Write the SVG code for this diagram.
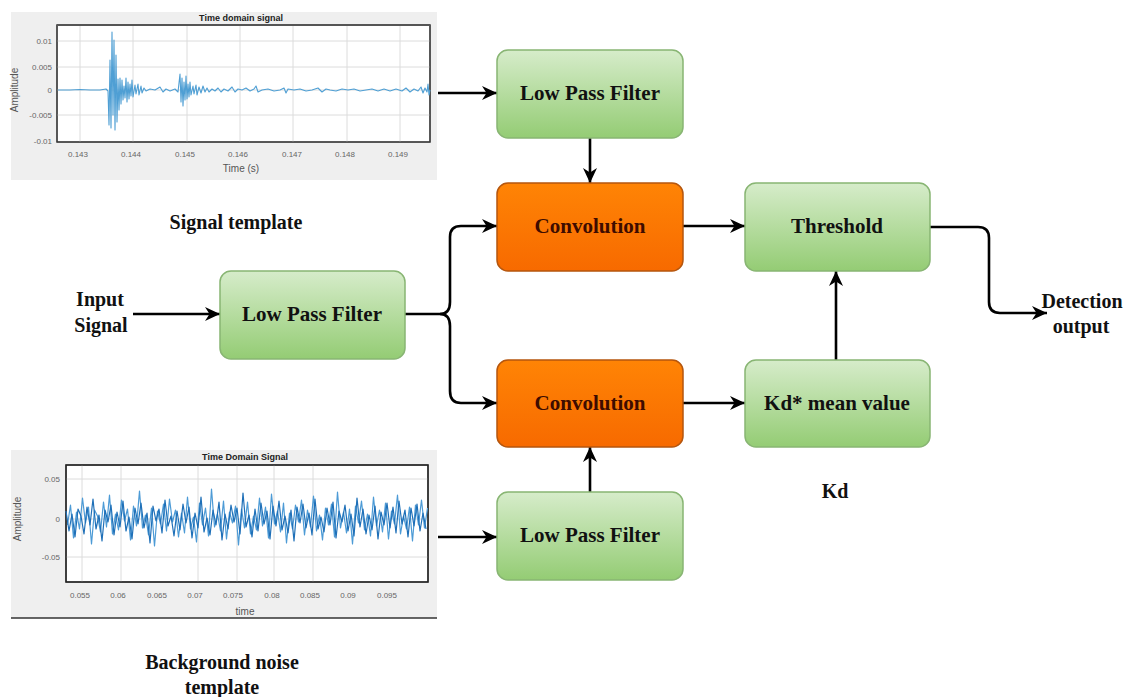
<svg xmlns="http://www.w3.org/2000/svg" width="1126" height="697" viewBox="0 0 1126 697">
  <style>
    .lbl { font-family: "Liberation Serif", "Times New Roman", serif; font-weight: bold; fill: #111; text-anchor: middle; }
    .box-txt { font-size: 21px; }
    .side-txt { font-size: 20px; }
    .conv-txt { fill: #3e0c00; }
    .green { fill: url(#gGreen); stroke: #88b573; stroke-width: 1.5; }
    .orange { fill: url(#gOrange); stroke: #b5560e; stroke-width: 1.5; }
    .wire { fill: none; stroke: #000; stroke-width: 2.6; }
    .panel { fill: #efefef; }
    .axes { fill: #fff; stroke: #3a3a3a; stroke-width: 1.2; }
    .grid { stroke: #dcdcdc; stroke-width: 1; }
    .tick { font-family: "Liberation Sans", Arial, sans-serif; font-size: 8px; fill: #666; }
    .ptitle { font-family: "Liberation Sans", Arial, sans-serif; font-size: 9px; font-weight: bold; fill: #222; text-anchor: middle; }
    .axlbl { font-family: "Liberation Sans", Arial, sans-serif; font-size: 10px; fill: #555; text-anchor: middle; }
    .noise { fill: none; stroke-width: 1.2; stroke-linejoin: round; }
  </style>
  <defs>
    <linearGradient id="gGreen" x1="0" y1="0" x2="0" y2="1">
      <stop offset="0" stop-color="#d6ecca"/>
      <stop offset="1" stop-color="#94cc74"/>
    </linearGradient>
    <linearGradient id="gOrange" x1="0" y1="0" x2="0" y2="1">
      <stop offset="0" stop-color="#ff8405"/>
      <stop offset="1" stop-color="#f76a00"/>
    </linearGradient>
    <marker id="arrow" markerUnits="userSpaceOnUse" markerWidth="16" markerHeight="14" refX="15" refY="7" orient="auto">
      <path d="M0,0 L15,7 L0,14 L4.5,7 Z" fill="#000"/>
    </marker>
  </defs>

  <rect width="1126" height="697" fill="#fff"/>

  <!-- Signal template plot -->
  <g id="signal-template-plot">
    <rect class="panel" x="11" y="12" width="426" height="168"/>
    <rect class="axes" x="57" y="25" width="373" height="117"/>
    <g class="grid">
      <line x1="57" y1="41" x2="430" y2="41"/>
      <line x1="57" y1="67" x2="430" y2="67"/>
      <line x1="57" y1="90" x2="430" y2="90"/>
      <line x1="57" y1="115" x2="430" y2="115"/>
      <line x1="80" y1="25" x2="80" y2="142"/>
      <line x1="133" y1="25" x2="133" y2="142"/>
      <line x1="187" y1="25" x2="187" y2="142"/>
      <line x1="240" y1="25" x2="240" y2="142"/>
      <line x1="293" y1="25" x2="293" y2="142"/>
      <line x1="347" y1="25" x2="347" y2="142"/>
      <line x1="400" y1="25" x2="400" y2="142"/>
    </g>
    <rect x="57" y="25" width="373" height="117" fill="none" stroke="#3a3a3a" stroke-width="1.2"/>
    <line x1="57" y1="25" x2="430" y2="25" stroke="#555" stroke-width="2"/>
    <path fill="none" stroke="#4f9fd4" stroke-width="1.1" stroke-linejoin="round" d="M58,90 L70,90 L80,89.5 L90,90 L100,90 L106,89 L108,91 L109,125 L110,60 L111,128 L112,32 L113,115 L114,40 L115,130 L116,55 L117,122 L118,79 L119,110 L120,78 L121,104 L122,80 L123,100 L124,86 L125,98 L126,78 L127,102 L128,82 L129,99 L130,84 L131,96 L132,80 L133,97 L135,85 L136,94 L138,84 L139,95 L141,86 L142,93 L144,88 L146,91 L150,89 L155,90 L160,87 L163,92 L166,89 L170,91 L175,89 L178,92 L180,74 L181,102 L182,78 L183,106 L184,82 L185,100 L186,76 L187,99 L188,84 L189,97 L190,82 L191,95 L193,86 L194,94 L196,85 L197,95 L199,87 L201,93 L203,86 L205,92 L207,88 L209,92 L212,89 L215,91 L218,88 L221,92 L224,89 L228,91 L232,87 L235,92 L238,89 L242,90 L246,88 L250,91 L254,89 L256,86 L258,92 L262,90 L268,89 L274,91 L280,90 L284,88 L286,93 L288,89 L294,90 L300,89 L306,91 L312,90 L318,88 L322,92 L326,89 L330,90 L336,91 L342,89 L348,90 L354,89 L360,91 L366,90 L372,89 L378,91 L384,89 L390,91 L396,89 L402,91 L406,88 L410,92 L414,89 L418,91 L421,87 L423,93 L425,88 L427,92 L428,84 L429,95 L430,90"/>
    <text class="ptitle" x="241" y="21">Time domain signal</text>
    <g class="tick" text-anchor="end">
      <text x="52" y="44">0.01</text>
      <text x="52" y="70">0.005</text>
      <text x="52" y="93">0</text>
      <text x="52" y="118">-0.005</text>
      <text x="52" y="144">-0.01</text>
    </g>
    <g class="tick" text-anchor="middle">
      <text x="78" y="157">0.143</text>
      <text x="131" y="157">0.144</text>
      <text x="185" y="157">0.145</text>
      <text x="238" y="157">0.146</text>
      <text x="292" y="157">0.147</text>
      <text x="345" y="157">0.148</text>
      <text x="398" y="157">0.149</text>
    </g>
    <text class="axlbl" x="241" y="172">Time (s)</text>
    <text class="axlbl" transform="translate(18,90) rotate(-90)">Amplitude</text>
  </g>

  <!-- Background noise plot -->
  <g id="noise-template-plot">
    <rect class="panel" x="11" y="450" width="426" height="168"/>
    <line x1="11" y1="618" x2="437" y2="618" stroke="#333" stroke-width="1.5"/>
    <rect class="axes" x="66" y="465" width="362" height="117"/>
    <g class="grid">
      <line x1="66" y1="479" x2="428" y2="479"/>
      <line x1="66" y1="519" x2="428" y2="519"/>
      <line x1="66" y1="557" x2="428" y2="557"/>
      <line x1="82" y1="465" x2="82" y2="582"/>
      <line x1="121" y1="465" x2="121" y2="582"/>
      <line x1="198" y1="465" x2="198" y2="582"/>
      <line x1="237" y1="465" x2="237" y2="582"/>
      <line x1="274" y1="465" x2="274" y2="582"/>
      <line x1="313" y1="465" x2="313" y2="582"/>
    </g>
    <rect x="66" y="465" width="362" height="117" fill="none" stroke="#222" stroke-width="1.4"/>
    <polyline class="noise" stroke="#4d9bd6" points="67.5,525 70.5,505 73.5,538 76.5,512 79.5,529 82.5,498 85.5,523 88.5,507 91.5,544 94.5,510 97.5,516 100.5,532 103.5,502 106.5,527 109.5,495 112.5,534 115.5,514 118.5,530 121.5,500 124.5,521 127.5,509 130.5,540 133.5,506 136.5,526 139.5,491 142.5,528 145.5,515 148.5,535 151.5,508 154.5,546 157.5,511 160.5,524 163.5,504 166.5,531 169.5,499 172.5,522 175.5,510 178.5,537 181.5,513 184.5,533 187.5,497 190.5,529 193.5,517 196.5,542 199.5,503 202.5,525 205.5,508 208.5,536 211.5,489 214.5,527 217.5,514 220.5,531 223.5,501 226.5,539 229.5,512 232.5,523 235.5,506 238.5,545 241.5,509 244.5,528 247.5,502 250.5,534 253.5,516 256.5,530 259.5,498 262.5,526 265.5,507 268.5,538 271.5,494 274.5,524 277.5,511 280.5,532 283.5,503 286.5,543 289.5,513 292.5,529 295.5,505 298.5,522 301.5,500 304.5,535 307.5,510 310.5,527 313.5,496 316.5,531 319.5,515 322.5,540 325.5,508 328.5,525 331.5,504 334.5,537 337.5,492 340.5,528 343.5,512 346.5,533 349.5,509 352.5,544 355.5,506 358.5,523 361.5,501 364.5,530 367.5,514 370.5,536 373.5,497 376.5,526 379.5,510 382.5,532 385.5,503 388.5,539 391.5,511 394.5,524 397.5,495 400.5,534 403.5,516 406.5,529 409.5,507 412.5,541 415.5,505 418.5,525 421.5,500 424.5,528 427.5,508"/>
    <polyline class="noise" stroke="#1f70b8" points="66,511 69,531 72,514 75,537 78,509 81,516 84,534 87,507 90,525 93,499 96,529 99,515 102,541 105,510 108,522 111,505 114,535 117,512 120,527 123,501 126,531 129,517 132,539 135,508 138,524 141,503 144,528 147,513 150,543 153,506 156,521 159,509 162,533 165,500 168,526 171,516 174,536 177,511 180,530 183,504 186,523 189,507 192,538 195,513 198,528 201,497 204,532 207,518 210,535 213,510 216,525 219,502 222,540 225,514 228,529 231,505 234,522 237,508 240,534 243,493 246,527 249,515 252,537 255,509 258,531 261,503 264,524 267,511 270,539 273,506 276,526 279,501 282,530 285,516 288,533 291,510 294,541 297,507 300,523 303,504 306,528 309,513 312,535 315,499 318,529 321,517 324,532 327,508 330,525 333,502 336,538 339,511 342,522 345,505 348,531 351,514 354,536 357,498 360,527 363,509 366,534 369,515 372,530 375,506 378,539 381,512 384,525 387,503 390,528 393,507 396,533 399,501 402,524 405,510 408,537 411,508 414,526 417,504 420,531 423,513 426,529"/>
    <text class="ptitle" x="245" y="460">Time Domain Signal</text>
    <g class="tick" text-anchor="end">
      <text x="60" y="482">0.05</text>
      <text x="60" y="522">0</text>
      <text x="60" y="560">-0.05</text>
    </g>
    <g class="tick" text-anchor="middle">
      <text x="80" y="598">0.055</text>
      <text x="118" y="598">0.06</text>
      <text x="157" y="598">0.065</text>
      <text x="195" y="598">0.07</text>
      <text x="233" y="598">0.075</text>
      <text x="272" y="598">0.08</text>
      <text x="310" y="598">0.085</text>
      <text x="348" y="598">0.09</text>
      <text x="387" y="598">0.095</text>
    </g>
    <text class="axlbl" x="245" y="615">time</text>
    <text class="axlbl" transform="translate(21,519) rotate(-90)">Amplitude</text>
  </g>

  <!-- Connectors -->
  <g id="connectors" class="wire">
    <line x1="438" y1="93" x2="497" y2="93" marker-end="url(#arrow)"/>
    <line x1="590" y1="138" x2="590" y2="183" marker-end="url(#arrow)"/>
    <line x1="683" y1="226" x2="745" y2="226" marker-end="url(#arrow)"/>
    <line x1="133" y1="314" x2="220" y2="314" marker-end="url(#arrow)"/>
    <path d="M405,314 H440 Q450,314 450,302 V237 Q450,226 461,226 H497" marker-end="url(#arrow)"/>
    <path d="M440,314 Q450,314 450,326 V391 Q450,403 461,403 H497" marker-end="url(#arrow)"/>
    <line x1="683" y1="403" x2="745" y2="403" marker-end="url(#arrow)"/>
    <line x1="590" y1="492" x2="590" y2="447" marker-end="url(#arrow)"/>
    <line x1="438" y1="537" x2="497" y2="537" marker-end="url(#arrow)"/>
    <line x1="836" y1="360" x2="836" y2="271" marker-end="url(#arrow)"/>
    <path d="M930,227 H978 Q989,227 989,238 V302 Q989,313 1000,313 H1047" marker-end="url(#arrow)"/>
  </g>

  <!-- Nodes -->
  <g id="lpf-signal">
    <rect class="green" x="497" y="50" width="186" height="88" rx="11"/>
    <text class="lbl box-txt" x="590" y="100">Low Pass Filter</text>
  </g>
  <g id="conv-signal">
    <rect class="orange" x="497" y="183" width="186" height="88" rx="11"/>
    <text class="lbl box-txt conv-txt" x="590" y="233">Convolution</text>
  </g>
  <g id="threshold">
    <rect class="green" x="745" y="183" width="185" height="88" rx="11"/>
    <text class="lbl box-txt" x="837" y="233">Threshold</text>
  </g>
  <g id="lpf-input">
    <rect class="green" x="220" y="271" width="185" height="88" rx="11"/>
    <text class="lbl box-txt" x="312" y="321">Low Pass Filter</text>
  </g>
  <g id="conv-noise">
    <rect class="orange" x="497" y="360" width="186" height="87" rx="11"/>
    <text class="lbl box-txt conv-txt" x="590" y="410">Convolution</text>
  </g>
  <g id="kd-mean">
    <rect class="green" x="745" y="360" width="185" height="87" rx="11"/>
    <text class="lbl box-txt" x="837" y="410">Kd* mean value</text>
  </g>
  <g id="lpf-noise">
    <rect class="green" x="497" y="492" width="186" height="88" rx="11"/>
    <text class="lbl box-txt" x="590" y="542">Low Pass Filter</text>
  </g>

  <!-- Free labels -->
  <g id="labels">
    <text class="lbl side-txt" x="236" y="229">Signal template</text>
    <text class="lbl side-txt" x="100" y="306">Input</text>
    <text class="lbl side-txt" x="101" y="332">Signal</text>
    <text class="lbl side-txt" x="1082" y="308">Detection</text>
    <text class="lbl side-txt" x="1081" y="333">output</text>
    <text class="lbl side-txt" x="835" y="498">Kd</text>
    <text class="lbl side-txt" x="222" y="669">Background noise</text>
    <text class="lbl side-txt" x="222" y="694">template</text>
  </g>
</svg>
